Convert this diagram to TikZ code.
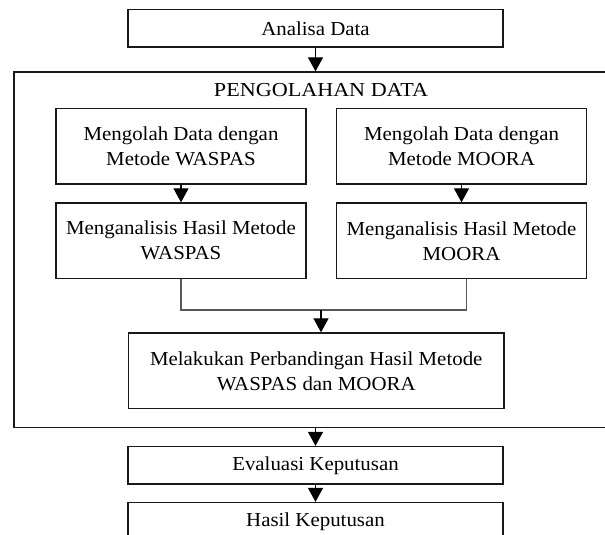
\documentclass[tikz,border=0pt]{standalone}
\usepackage{fontspec}
\setmainfont{Liberation Serif}[FakeStretch=1.055]
\usetikzlibrary{arrows.meta}
\begin{document}
\begin{tikzpicture}[x=1pt,y=-1pt,
  box/.style={draw=black!90, line width=1.3pt, inner sep=0pt, align=center,
    font=\fontsize{19.8}{25}\selectfont},
  wide/.style={box, minimum width=375pt, minimum height=37.5pt},
  half/.style={box, minimum width=250pt, minimum height=75.5pt},
  arr/.style={draw=black, line width=1.2pt, -{Triangle[width=15pt,length=14pt]}},
  link/.style={draw=black!65, line width=1.1pt}]
\useasboundingbox (0,0) rectangle (605,535);
\node[box, minimum width=593pt, minimum height=355.5pt] (outer) at (310.5,249.75) {};
\node[font=\fontsize{19.8}{25}\selectfont, inner sep=0pt] (title) at (321,90) {\scalebox{1.06}[1]{PENGOLAHAN DATA}};
\node[wide] (ana) at (315.5,28.25) {Analisa Data};
\node[half] (m1) at (181,146.25) {Mengolah Data dengan\\Metode WASPAS};
\node[half] (m2) at (461.5,146.25) {Mengolah Data dengan\\Metode MOORA};
\node[half] (h1) at (181,240.75) {Menganalisis Hasil Metode\\WASPAS};
\node[half] (h2) at (461.5,240.75) {Menganalisis Hasil Metode\\MOORA};
\node[box, minimum width=375.5pt, minimum height=75.7pt] (cmp) at (316.25,370.85) {Melakukan Perbandingan Hasil Metode\\WASPAS dan MOORA};
\node[wide] (eva) at (315.5,465.25) {Evaluasi Keputusan};
\node[wide] (res) at (315.5,521.25) {Hasil Keputusan};
\coordinate (j) at (321,310);
\draw[arr] (ana.south) -- (ana.south |- outer.north);
\draw[arr] (m1) -- (h1);
\draw[arr] (m2) -- (h2);
\draw[link] (h1.south) -- (h1.south |- j) -- ([xshift=5pt]h2.south |- j) -- ([xshift=5pt]h2.south);
\draw[arr] (j) -- (j |- cmp.north);
\draw[arr] (outer.south -| eva.north) -- (eva.north);
\draw[arr] (eva) -- (res);
\end{tikzpicture}
\end{document}
